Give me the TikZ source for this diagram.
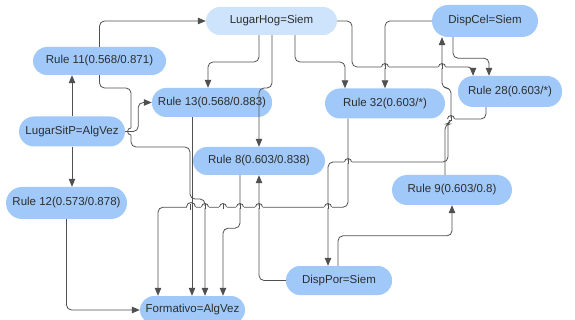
\documentclass[tikz,border=0pt]{standalone}
\usepackage{fontspec}
\setmainfont{Liberation Sans}
\usetikzlibrary{arrows.meta}
\definecolor{nodeblue}{RGB}{160,201,250}
\definecolor{lightblue}{RGB}{206,228,253}
\definecolor{linegray}{RGB}{80,80,80}
\definecolor{txtgray}{RGB}{45,45,45}
% hop of a horizontal line over a vertical line at (#1,#2)
\newcommand{\myhop}[2]{%
  \fill[white] (#1-3.6,#2-1.3) rectangle (#1+3.6,#2+1.3);
  \draw[hopline] (#1,#2-2.5) -- (#1,#2+2.5);
  \draw[hopline] (#1-3.5,#2) arc[start angle=180,end angle=360,radius=3.5];}
% hop of a vertical line over a horizontal line at (#1,#2)
\newcommand{\myvhop}[2]{%
  \fill[white] (#1-1.3,#2-3.6) rectangle (#1+1.3,#2+3.6);
  \draw[hopline] (#1-2.5,#2) -- (#1+2.5,#2);
  \draw[hopline] (#1,#2-3.5) arc[start angle=270,end angle=90,radius=3.5];}
\begin{document}
\begin{tikzpicture}[x=1pt,y=-1pt,
  itembox/.style={draw=none,fill=nodeblue,rounded corners=14pt,text=txtgray,
    font=\fontsize{11.5}{13}\selectfont,inner sep=0pt,minimum height=29pt},
  hopline/.style={draw=linegray,line width=0.8pt},
  conn/.style={draw=linegray,line width=0.8pt,rounded corners=5pt,
    -{Triangle[length=8pt,width=6.5pt]}}]
\useasboundingbox[fill=white] (0,0) rectangle (575,320);
% nodes
\node[itembox,fill=lightblue,minimum width=131pt,minimum height=28pt] (lh) at (271.5,21) {LugarHog=Siem};
\node[itembox,minimum width=106pt,minimum height=32pt,rounded corners=16pt] (dc) at (485,21) {DispCel=Siem};
\node[itembox,minimum width=133pt,minimum height=28pt] (r11) at (99.5,61) {Rule 11(0.568/0.871)};
\node[itembox,minimum width=120pt] (r13) at (212,102.5) {Rule 13(0.568/0.883)};
\node[itembox,minimum width=120pt,minimum height=30pt,rounded corners=15pt] (r32) at (385,103.5) {Rule 32(0.603/*)};
\node[itembox,minimum width=104pt,minimum height=31pt,rounded corners=15pt] (r28) at (510,91.5) {Rule 28(0.603/*)};
\node[itembox,minimum width=106pt,minimum height=30pt,rounded corners=15pt] (ls) at (72,131.5) {LugarSitP=AlgVez};
\node[itembox,minimum width=132pt,minimum height=28pt] (r8) at (259,161) {Rule 8(0.603/0.838)};
\node[itembox,minimum width=120pt,minimum height=30pt,rounded corners=15pt] (r9) at (452,190) {Rule 9(0.603/0.8)};
\node[itembox,minimum width=121pt,minimum height=32pt,rounded corners=16pt] (r12) at (66.5,203) {Rule 12(0.573/0.878)};
\node[itembox,minimum width=106pt] (dp) at (339,280.5) {DispPor=Siem};
\node[itembox,minimum width=105pt,minimum height=28pt] (fo) at (192.5,310) {Formativo=AlgVez};
% connectors
\draw[conn] (ls.north) -- (ls.north |- r11.south);
\draw[conn] (ls.south) -- (ls.south |- r12.north);
\draw[conn] (ls.east) -- ++(13,0) |- (r13.west);
\draw[conn] (r11.north) |- (lh.west);
\draw[conn] (r11.south) -- (99.5,88) -- (131,88) -- (131,147) -- (190,147) -- (190,199) -- (205,199) -- ([xshift=12.5]fo.north);
\draw[conn] ([xshift=-20]r13.south) -- ([xshift=-20]r13.south |- fo.north);
\draw[conn] ([xshift=-12.5]lh.south) |- (208,62) -- ([xshift=-4]r13.north);
\draw[conn] ([xshift=0.5]lh.south) |- (259,88) -- (r8.north);
\draw[conn] ([xshift=23.5]lh.south) |- (345,62) -- ([xshift=-40]r32.north);
\draw[conn] (lh.east) -| (352,67) -| ([xshift=-37]r28.north);
\draw[conn] (dc.west) -| (r32.north);
\draw[conn] ([xshift=-32]dc.south) -- ++(0,21) -| ([xshift=-21]r28.north);
\draw[conn] ([xshift=-7]r9.north) -- (445,124) -- (451,124) -- (451,88) -- (442,88) -- ([xshift=-43]dc.south);
\draw[conn] ([xshift=-24]r28.south) |- (448,119) |- (328,162) -- ([xshift=-11]dp.north);
\draw[conn] (dp.west) -| (r8.south);
\draw[conn] ([xshift=-1]dp.north) -- ++(0,-30) -| (r9.south);
\draw[conn] (r12.south) |- (fo.west);
\draw[conn] ([xshift=-19]r8.south) -- ++(0,53) -| ([xshift=30.5]fo.north);
\draw[conn] ([xshift=-37]r32.south) -- ++(0,88.5) -| ([xshift=-34.5]fo.north);
% line hops at crossings
\fill[white] (186.5,205.7) rectangle (195.5,208.3);
\draw[hopline] (190,204) -- (190,210.5);
\draw[hopline] (192,204) -- (192,210.5);
\draw[hopline] (186.5,207) arc[start angle=180,end angle=360,radius=4.5];
\myhop{205}{207}
\myhop{223}{207}
\myhop{240}{207}
\myhop{259}{207}
\myhop{328}{207}
\myhop{348}{162}
\myhop{385}{67}
\myhop{442}{67}
\myhop{451}{119}
\myvhop{131}{131.5}
\end{tikzpicture}
\end{document}
